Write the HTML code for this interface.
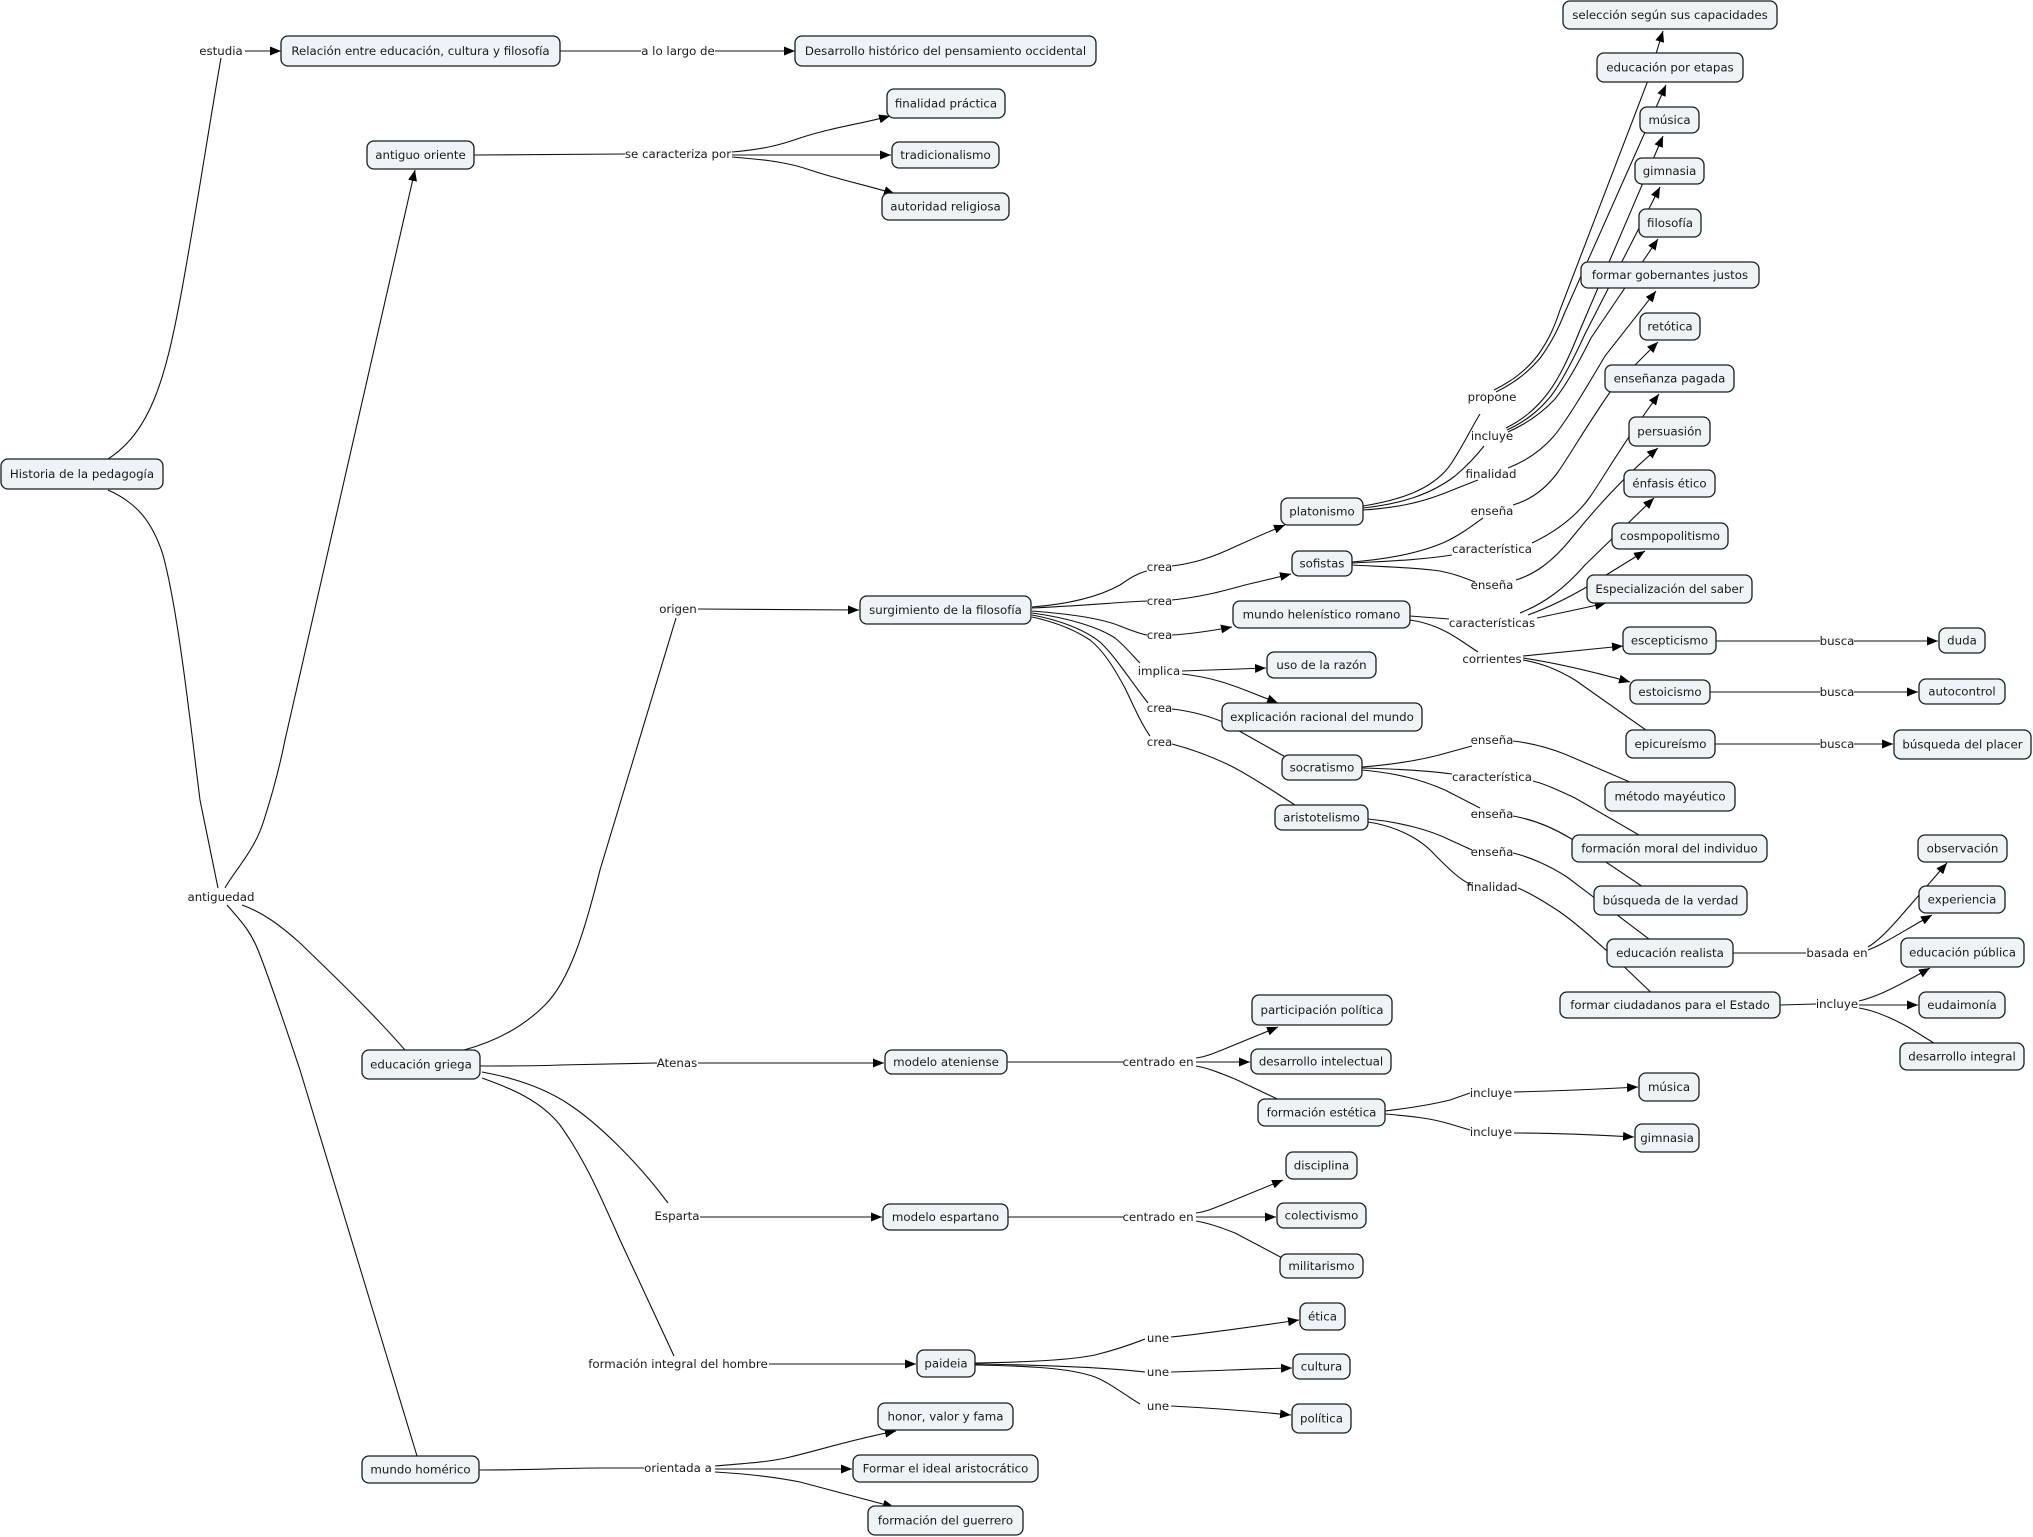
<!DOCTYPE html>
<html>
<head>
<meta charset="utf-8">
<style>
  html,body{margin:0;padding:0;background:#fff;}
  svg{display:block;}
  .l{fill:none;stroke:#111;stroke-width:1.1;}
  .n rect{fill:#EEF3F5;stroke:#1c1c1c;stroke-width:1.3;}
  text{font-family:"DejaVu Sans","Liberation Sans",sans-serif;font-size:11.8px;fill:#1a1a1a;text-anchor:middle;}
</style>
</head>
<body>
<svg width="2033" height="1537" viewBox="0 0 2033 1537" xmlns="http://www.w3.org/2000/svg">
<defs>
  <marker id="a" viewBox="0 0 11 9" refX="11" refY="4.5" markerWidth="11" markerHeight="9" markerUnits="userSpaceOnUse" orient="auto">
    <path d="M0,0 L11,4.5 L0,9 z" fill="#000"/>
  </marker>
</defs>
<rect width="2033" height="1537" fill="#fff"/>

<!-- ============ CONNECTORS ============ -->
<g class="l">
  <!-- top -->
  <path d="M108,459 C150,432 165,380 180,300 S210,120 221,58"/>
  <path d="M245,51 L281,51" marker-end="url(#a)"/>
  <path d="M560,51 L641,51"/>
  <path d="M715,51 L795,51" marker-end="url(#a)"/>
  <path d="M474,155 L625,154"/>
  <path d="M732,152 C765,149 780,145 800,138 C830,128 860,124 890,116" marker-end="url(#a)"/>
  <path d="M732,155 L891,155" marker-end="url(#a)"/>
  <path d="M732,157 C770,160 790,163 810,170 C840,180 870,186 895,194" marker-end="url(#a)"/>

  <!-- antiguedad -->
  <path d="M108,490 C135,502 152,520 163,555 C178,610 190,720 200,800 L218,888"/>
  <path d="M225,888 C235,870 255,850 264,820 C272,795 280,765 285,740 L415,170" marker-end="url(#a)"/>
  <path d="M242,905 C262,912 280,925 300,943 C330,972 370,1010 405,1050"/>
  <path d="M227,905 C240,920 250,930 258,950 C268,975 280,1010 300,1070 L417,1456"/>

  <!-- educación griega -->
  <path d="M464,1050 C490,1043 520,1030 545,1005 C570,980 585,930 600,870 L676,618"/>
  <path d="M698,609 L859,610" marker-end="url(#a)"/>
  <path d="M480,1066 C520,1066 540,1066 560,1065 L657,1063"/>
  <path d="M698,1063 L884,1063" marker-end="url(#a)"/>
  <path d="M482,1072 C515,1078 545,1088 570,1105 C600,1125 640,1165 668,1203"/>
  <path d="M700,1217 L882,1217" marker-end="url(#a)"/>
  <path d="M482,1078 C510,1088 540,1100 560,1125 C585,1160 600,1195 620,1240 L674,1356"/>
  <path d="M769,1364 L916,1364" marker-end="url(#a)"/>

  <!-- mundo homérico -->
  <path d="M479,1470 C540,1470 560,1468 600,1468 L644,1468"/>
  <path d="M715,1466 C750,1463 770,1462 790,1457 C820,1450 850,1440 896,1431" marker-end="url(#a)"/>
  <path d="M715,1469 L852,1469" marker-end="url(#a)"/>
  <path d="M715,1472 C750,1474 775,1477 800,1482 C830,1490 860,1498 894,1507" marker-end="url(#a)"/>

  <!-- surgimiento de la filosofía -->
  <path d="M1032,607 C1070,604 1100,596 1120,585 C1130,578 1138,573 1147,571"/>
  <path d="M1172,566 C1195,563 1210,558 1230,549 C1250,540 1265,533 1285,525" marker-end="url(#a)"/>
  <path d="M1032,608 C1080,606 1120,602 1147,601"/>
  <path d="M1172,600 C1200,597 1220,592 1245,585 L1291,574" marker-end="url(#a)"/>
  <path d="M1032,611 C1070,614 1100,618 1120,626 C1130,630 1140,634 1147,635"/>
  <path d="M1172,635 C1190,634 1205,632 1232,627" marker-end="url(#a)"/>
  <path d="M1032,613 C1070,618 1100,628 1115,638 C1125,646 1132,655 1140,663"/>
  <path d="M1182,671 C1210,670 1240,669 1266,668" marker-end="url(#a)"/>
  <path d="M1182,674 C1210,677 1230,684 1250,692 L1278,703" marker-end="url(#a)"/>
  <path d="M1032,615 C1060,620 1085,630 1100,642 C1115,656 1130,680 1148,703"/>
  <path d="M1172,709 C1190,711 1210,716 1225,723 L1305,768"/>
  <path d="M1032,617 C1055,622 1075,630 1090,640 C1105,652 1115,670 1125,688 C1133,705 1142,725 1150,736"/>
  <path d="M1172,744 C1195,750 1215,758 1233,767 C1250,776 1280,795 1310,815"/>

  <!-- platonismo -->
  <path d="M1363,506 C1400,500 1430,490 1448,468 C1460,452 1470,430 1480,414"/>
  <path d="M1363,508 C1400,504 1430,495 1455,476 C1468,465 1477,455 1484,446"/>
  <path d="M1363,510 C1395,508 1420,503 1445,493 C1460,487 1470,483 1478,480"/>
  <path d="M1494,390 C1510,382 1525,372 1538,355 C1550,338 1555,325 1560,310 L1647,83 L1663,31" marker-end="url(#a)"/>
  <path d="M1496,392 C1512,384 1527,374 1541,357 C1553,340 1559,327 1565,312 L1666,85" marker-end="url(#a)"/>
  <path d="M1506,428 C1522,420 1535,410 1548,393 C1560,377 1570,355 1580,330 L1663,136" marker-end="url(#a)"/>
  <path d="M1507,430 C1524,422 1538,412 1551,396 C1563,380 1574,358 1585,334 L1660,187" marker-end="url(#a)"/>
  <path d="M1508,432 C1526,424 1541,414 1555,399 C1567,384 1579,362 1591,338 L1658,239" marker-end="url(#a)"/>
  <path d="M1508,468 C1526,461 1541,451 1554,436 C1567,420 1585,390 1605,356 L1656,291" marker-end="url(#a)"/>

  <!-- sofistas -->
  <path d="M1352,562 C1390,559 1420,553 1445,542 C1460,535 1472,526 1483,518"/>
  <path d="M1352,563 C1390,561 1420,560 1452,555"/>
  <path d="M1352,565 C1390,567 1420,568 1440,571 C1455,574 1465,578 1475,582"/>
  <path d="M1513,505 C1530,500 1545,490 1558,472 C1570,455 1590,420 1615,385 L1658,342" marker-end="url(#a)"/>
  <path d="M1532,543 C1555,532 1575,518 1590,497 C1605,475 1625,440 1659,394" marker-end="url(#a)"/>
  <path d="M1516,580 C1535,574 1552,562 1570,540 C1590,515 1620,480 1658,448" marker-end="url(#a)"/>

  <!-- mundo helenístico romano -->
  <path d="M1410,616 L1449,619"/>
  <path d="M1410,620 C1430,623 1445,630 1460,640 L1478,652"/>
  <path d="M1520,613 C1545,603 1565,588 1585,565 L1654,498" marker-end="url(#a)"/>
  <path d="M1528,615 C1550,607 1570,597 1590,585 L1645,551" marker-end="url(#a)"/>
  <path d="M1537,618 C1560,613 1585,608 1606,603" marker-end="url(#a)"/>
  <path d="M1523,656 C1550,653 1580,650 1623,646" marker-end="url(#a)"/>
  <path d="M1523,658 C1550,662 1580,668 1630,682" marker-end="url(#a)"/>
  <path d="M1523,660 C1540,663 1555,668 1575,680 L1660,740"/>
  <path d="M1716,641 L1820,641"/>
  <path d="M1854,641 L1938,641" marker-end="url(#a)"/>
  <path d="M1710,692 L1820,692"/>
  <path d="M1854,692 L1918,692" marker-end="url(#a)"/>
  <path d="M1715,744 L1820,744"/>
  <path d="M1854,744 L1893,744" marker-end="url(#a)"/>

  <!-- socratismo -->
  <path d="M1362,767 C1400,764 1430,758 1450,752 L1472,746"/>
  <path d="M1362,768 C1400,769 1430,771 1452,774"/>
  <path d="M1362,770 C1395,773 1420,779 1445,790 L1480,808"/>
  <path d="M1513,741 C1530,743 1550,748 1567,755 L1660,795"/>
  <path d="M1533,781 C1548,785 1560,791 1575,798 L1665,850"/>
  <path d="M1513,816 C1530,819 1550,826 1570,838 L1670,905"/>

  <!-- aristotelismo -->
  <path d="M1368,819 C1400,822 1430,830 1450,840 L1472,850"/>
  <path d="M1368,822 C1395,826 1420,838 1435,855 C1450,870 1460,880 1472,885"/>
  <path d="M1513,853 C1530,857 1550,866 1567,877 L1670,955"/>
  <path d="M1518,888 C1530,893 1545,902 1560,912 C1580,926 1600,945 1615,958 L1662,1003"/>
  <path d="M1733,953 L1806,953"/>
  <path d="M1868,947 C1878,941 1888,931 1900,917 L1947,863" marker-end="url(#a)"/>
  <path d="M1868,950 C1882,945 1900,933 1932,915" marker-end="url(#a)"/>
  <path d="M1780,1005 L1816,1004"/>
  <path d="M1859,1001 C1872,998 1888,992 1930,968" marker-end="url(#a)"/>
  <path d="M1859,1005 L1918,1005" marker-end="url(#a)"/>
  <path d="M1859,1008 C1872,1010 1888,1016 1908,1027 L1950,1053"/>

  <!-- modelo ateniense -->
  <path d="M1007,1062 L1123,1062"/>
  <path d="M1196,1058 C1205,1057 1212,1054 1222,1050 L1278,1027" marker-end="url(#a)"/>
  <path d="M1196,1062 L1250,1062" marker-end="url(#a)"/>
  <path d="M1196,1066 C1208,1068 1220,1073 1235,1079 L1290,1105"/>
  <path d="M1385,1111 C1410,1108 1430,1105 1450,1100 L1470,1093"/>
  <path d="M1514,1092 C1560,1091 1600,1089 1638,1087" marker-end="url(#a)"/>
  <path d="M1385,1114 C1410,1116 1430,1118 1450,1124 L1470,1130"/>
  <path d="M1514,1133 C1560,1133 1600,1135 1634,1137" marker-end="url(#a)"/>

  <!-- modelo espartano -->
  <path d="M1008,1217 L1123,1217"/>
  <path d="M1196,1213 C1205,1212 1212,1209 1222,1205 L1283,1180" marker-end="url(#a)"/>
  <path d="M1196,1217 L1276,1217" marker-end="url(#a)"/>
  <path d="M1196,1221 C1208,1223 1220,1227 1235,1233 L1290,1262"/>

  <!-- paideia -->
  <path d="M975,1363 C1030,1362 1070,1360 1095,1355 C1115,1350 1130,1345 1145,1339"/>
  <path d="M1171,1337 C1200,1334 1230,1330 1299,1320" marker-end="url(#a)"/>
  <path d="M975,1364 C1040,1365 1100,1367 1145,1372"/>
  <path d="M1171,1372 C1210,1371 1250,1369 1292,1368" marker-end="url(#a)"/>
  <path d="M975,1365 C1030,1366 1070,1368 1095,1377 C1110,1383 1125,1395 1140,1404"/>
  <path d="M1171,1406 C1210,1408 1250,1411 1291,1415" marker-end="url(#a)"/>
</g>

<!-- ============ CONCEPT NODES ============ -->
<g class="n">
  <rect x="1" y="459" width="162" height="30" rx="7"/><text x="82" y="478">Historia de la pedagogía</text>
  <rect x="281" y="36" width="279" height="30" rx="7"/><text x="420.5" y="55">Relación entre educación, cultura y filosofía</text>
  <rect x="795" y="36" width="301" height="30" rx="7"/><text x="945.5" y="55">Desarrollo histórico del pensamiento occidental</text>
  <rect x="367" y="141" width="107" height="28" rx="7"/><text x="420.5" y="159">antiguo oriente</text>
  <rect x="887" y="89" width="118" height="29" rx="7"/><text x="946" y="107.5">finalidad práctica</text>
  <rect x="892" y="142" width="107" height="26" rx="7"/><text x="945.5" y="159">tradicionalismo</text>
  <rect x="882" y="193" width="127" height="27" rx="7"/><text x="945.5" y="210.5">autoridad religiosa</text>

  <rect x="1563" y="1" width="214" height="28" rx="7"/><text x="1670" y="19">selección según sus capacidades</text>
  <rect x="1597" y="53" width="146" height="29" rx="7"/><text x="1670" y="71.5">educación por etapas</text>
  <rect x="1640" y="107" width="59" height="26" rx="7"/><text x="1669.5" y="124">música</text>
  <rect x="1635" y="158" width="69" height="26" rx="7"/><text x="1669.5" y="175">gimnasia</text>
  <rect x="1639" y="209" width="62" height="28" rx="7"/><text x="1670" y="227">filosofía</text>
  <rect x="1581" y="262" width="178" height="26" rx="7"/><text x="1670" y="279">formar gobernantes justos</text>
  <rect x="1640" y="313" width="60" height="27" rx="7"/><text x="1670" y="330.5">retótica</text>
  <rect x="1605" y="365" width="129" height="27" rx="7"/><text x="1669.5" y="382.5">enseñanza pagada</text>
  <rect x="1629" y="417" width="81" height="29" rx="7"/><text x="1669.5" y="435.5">persuasión</text>
  <rect x="1624" y="470" width="91" height="27" rx="7"/><text x="1669.5" y="487.5">énfasis ético</text>
  <rect x="1612" y="523" width="116" height="26" rx="7"/><text x="1670" y="540">cosmpopolitismo</text>
  <rect x="1587" y="575" width="165" height="28" rx="7"/><text x="1669.5" y="593">Especialización del saber</text>
  <rect x="1623" y="627" width="93" height="27" rx="7"/><text x="1669.5" y="644.5">escepticismo</text>
  <rect x="1630" y="680" width="80" height="24" rx="7"/><text x="1670" y="696">estoicismo</text>
  <rect x="1626" y="730" width="89" height="28" rx="7"/><text x="1670.5" y="748">epicureísmo</text>
  <rect x="1939" y="628" width="46" height="25" rx="7"/><text x="1962" y="644.5">duda</text>
  <rect x="1919" y="679" width="86" height="25" rx="7"/><text x="1962" y="695.5">autocontrol</text>
  <rect x="1894" y="730" width="137" height="29" rx="7"/><text x="1962.5" y="748.5">búsqueda del placer</text>

  <rect x="1605" y="782" width="130" height="29" rx="7"/><text x="1670" y="800.5">método mayéutico</text>
  <rect x="1572" y="835" width="195" height="27" rx="7"/><text x="1669.5" y="852.5">formación moral del individuo</text>
  <rect x="1594" y="886" width="153" height="29" rx="7"/><text x="1670.5" y="904.5">búsqueda de la verdad</text>
  <rect x="1607" y="939" width="126" height="28" rx="7"/><text x="1670" y="957">educación realista</text>
  <rect x="1560" y="992" width="220" height="26" rx="7"/><text x="1670" y="1009">formar ciudadanos para el Estado</text>
  <rect x="1918" y="835" width="89" height="27" rx="7"/><text x="1962.5" y="852.5">observación</text>
  <rect x="1919" y="886" width="86" height="27" rx="7"/><text x="1962" y="903.5">experiencia</text>
  <rect x="1901" y="938" width="123" height="29" rx="7"/><text x="1962.5" y="956.5">educación pública</text>
  <rect x="1919" y="992" width="86" height="26" rx="7"/><text x="1962" y="1009">eudaimonía</text>
  <rect x="1900" y="1043" width="124" height="27" rx="7"/><text x="1962" y="1060.5">desarrollo integral</text>

  <rect x="860" y="596" width="171" height="28" rx="7"/><text x="945.5" y="614">surgimiento de la filosofía</text>
  <rect x="1281" y="498" width="82" height="27" rx="7"/><text x="1322" y="515.5">platonismo</text>
  <rect x="1292" y="551" width="60" height="25" rx="7"/><text x="1322" y="567.5">sofistas</text>
  <rect x="1233" y="601" width="177" height="27" rx="7"/><text x="1321.5" y="618.5">mundo helenístico romano</text>
  <rect x="1267" y="652" width="109" height="26" rx="7"/><text x="1321.5" y="669">uso de la razón</text>
  <rect x="1222" y="703" width="200" height="28" rx="7"/><text x="1322" y="721">explicación racional del mundo</text>
  <rect x="1282" y="755" width="80" height="25" rx="7"/><text x="1322" y="771.5">socratismo</text>
  <rect x="1275" y="805" width="93" height="25" rx="7"/><text x="1321.5" y="821.5">aristotelismo</text>

  <rect x="362" y="1050" width="118" height="29" rx="7"/><text x="421" y="1068.5">educación griega</text>
  <rect x="885" y="1050" width="122" height="24" rx="7"/><text x="946" y="1066">modelo ateniense</text>
  <rect x="1252" y="995" width="140" height="30" rx="7"/><text x="1322" y="1014">participación política</text>
  <rect x="1251" y="1049" width="140" height="25" rx="7"/><text x="1321" y="1065.5">desarrollo intelectual</text>
  <rect x="1258" y="1099" width="127" height="27" rx="7"/><text x="1321.5" y="1116.5">formación estética</text>
  <rect x="1639" y="1073" width="60" height="28" rx="7"/><text x="1669" y="1091">música</text>
  <rect x="1635" y="1124" width="64" height="28" rx="7"/><text x="1667" y="1142">gimnasia</text>
  <rect x="883" y="1204" width="125" height="26" rx="7"/><text x="945.5" y="1221">modelo espartano</text>
  <rect x="1286" y="1152" width="71" height="27" rx="7"/><text x="1321.5" y="1169.5">disciplina</text>
  <rect x="1277" y="1203" width="89" height="25" rx="7"/><text x="1321.5" y="1219.5">colectivismo</text>
  <rect x="1280" y="1254" width="83" height="24" rx="7"/><text x="1321.5" y="1270">militarismo</text>
  <rect x="917" y="1350" width="58" height="27" rx="7"/><text x="946" y="1367.5">paideia</text>
  <rect x="1300" y="1303" width="45" height="27" rx="7"/><text x="1322.5" y="1320.5">ética</text>
  <rect x="1293" y="1354" width="57" height="25" rx="7"/><text x="1321.5" y="1370.5">cultura</text>
  <rect x="1292" y="1404" width="59" height="29" rx="7"/><text x="1321.5" y="1422.5">política</text>

  <rect x="362" y="1456" width="117" height="27" rx="7"/><text x="420.5" y="1473.5">mundo homérico</text>
  <rect x="878" y="1403" width="135" height="27" rx="7"/><text x="945.5" y="1420.5">honor, valor y fama</text>
  <rect x="853" y="1455" width="185" height="27" rx="7"/><text x="945.5" y="1472.5">Formar el ideal aristocrático</text>
  <rect x="868" y="1506" width="155" height="29" rx="7"/><text x="945.5" y="1524.5">formación del guerrero</text>
</g>

<!-- ============ LINKING PHRASES ============ -->
<g>
  <text x="221" y="55">estudia</text>
  <text x="678" y="55">a lo largo de</text>
  <text x="678" y="158">se caracteriza por</text>
  <text x="221" y="901">antiguedad</text>
  <text x="678" y="613">origen</text>

  <text x="1159.5" y="571">crea</text>
  <text x="1159.5" y="605">crea</text>
  <text x="1159.5" y="639">crea</text>
  <text x="1159" y="675">implica</text>
  <text x="1159.5" y="712">crea</text>
  <text x="1159.5" y="746">crea</text>

  <text x="1492" y="401">propone</text>
  <text x="1492" y="440">incluye</text>
  <text x="1491" y="478">finalidad</text>
  <text x="1492" y="515">enseña</text>
  <text x="1492" y="553">característica</text>
  <text x="1492" y="589">enseña</text>
  <text x="1492" y="627">características</text>
  <text x="1492" y="663">corrientes</text>
  <text x="1492" y="744">enseña</text>
  <text x="1492" y="781">característica</text>
  <text x="1492" y="818">enseña</text>
  <text x="1492" y="856">enseña</text>
  <text x="1492" y="891">finalidad</text>

  <text x="1837" y="645">busca</text>
  <text x="1837" y="696">busca</text>
  <text x="1837" y="748">busca</text>
  <text x="1837" y="957">basada en</text>
  <text x="1837" y="1008">incluye</text>

  <text x="677" y="1067">Atenas</text>
  <text x="1158" y="1066">centrado en</text>
  <text x="1491" y="1097">incluye</text>
  <text x="1491" y="1136">incluye</text>
  <text x="677" y="1220">Esparta</text>
  <text x="1158" y="1221">centrado en</text>
  <text x="678" y="1368">formación integral del hombre</text>
  <text x="1158" y="1342">une</text>
  <text x="1158" y="1376">une</text>
  <text x="1158" y="1410">une</text>
  <text x="678" y="1472">orientada a</text>
</g>
</svg>
</body>
</html>
